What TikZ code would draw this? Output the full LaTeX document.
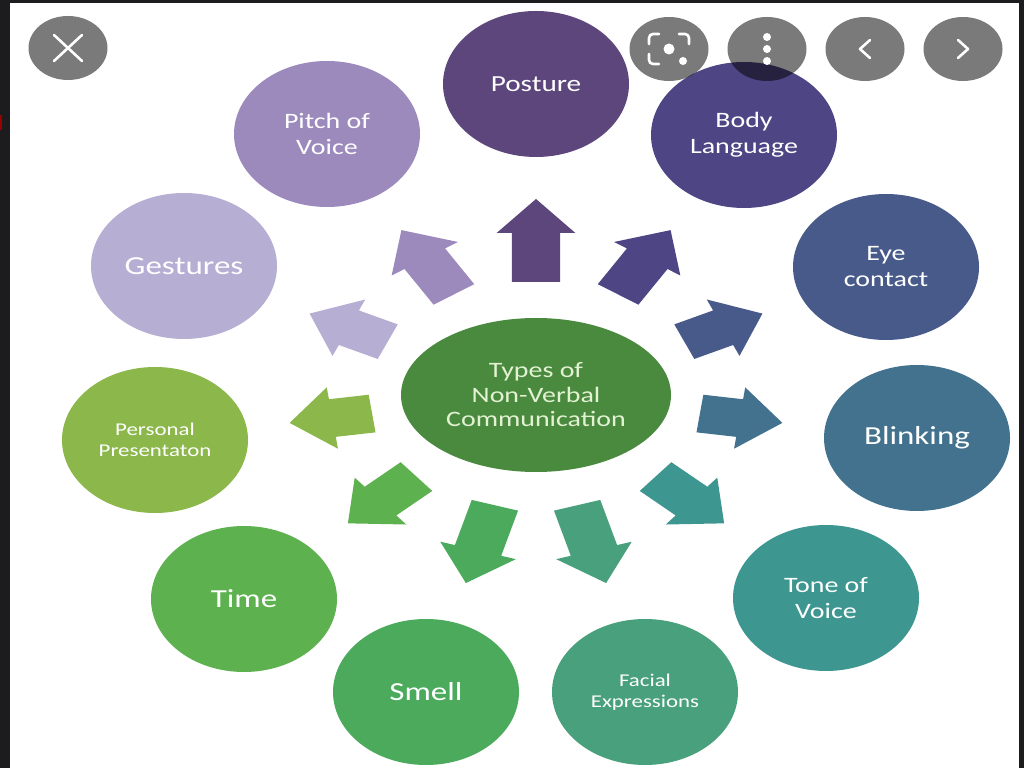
\documentclass[tikz,border=0pt]{standalone}
\usepackage{fontspec}
\usepackage{xcolor}
\usetikzlibrary{shapes.geometric}

\newfontfamily\bodyfont[FakeStretch=1.27]{Carlito}

\definecolor{framedark}{HTML}{1C1C1E}
\definecolor{cposture}{HTML}{5C467C}
\definecolor{cbody}{HTML}{4E4585}
\definecolor{ceye}{HTML}{485A8A}
\definecolor{cblink}{HTML}{43728F}
\definecolor{ctone}{HTML}{3E9690}
\definecolor{cfacial}{HTML}{48A07C}
\definecolor{csmell}{HTML}{4BAA5C}
\definecolor{ctime}{HTML}{5DB14E}
\definecolor{cpersonal}{HTML}{8BB74B}
\definecolor{cgestures}{HTML}{B6AED3}
\definecolor{cpitch}{HTML}{9C8ABD}
\definecolor{ccenter}{HTML}{4A8A3F}
\definecolor{centertxt}{HTML}{E2F2D2}

\begin{document}
\begin{tikzpicture}[x=1pt, y=1pt,
  bubble/.style={ellipse, minimum width=186pt, minimum height=146pt, inner sep=0pt,
    text=white, align=center, font=\bodyfont\fontsize{22}{26}\selectfont},
  bigtxt/.style={font=\bodyfont\fontsize{26}{30}\selectfont},
  smalltxt/.style={font=\bodyfont\fontsize{18}{20.5}\selectfont},
  btn/.style={ellipse, minimum width=79pt, minimum height=64pt, inner sep=0pt,
    fill=black, fill opacity=0.52},
  icon/.style={white, line width=2.6pt, line cap=round, line join=round}]
  \useasboundingbox (0,0) rectangle (1024,768);
  \fill[framedark] (0,0) rectangle (1024,768);
  \fill[white] (10,0) rectangle (1019,765);
  \fill[red!60!black] (0,638) rectangle (2,653);

  % arrows round the centre
  \foreach \k/\col in {0/cposture,1/cbody,2/ceye,3/cblink,4/ctone,5/cfacial,
                       6/csmell,7/ctime,8/cpersonal,9/cgestures,10/cpitch}{
    \pgfmathsetmacro\ang{90-\k*360/11}
    \pgfmathsetmacro\len{83/sqrt((1.27*cos(\ang))^2+(sin(\ang))^2)}
    \pgfmathsetmacro\rbase{196-\len}
    \fill[\col, shift={(536,373)}, xscale=1.27, rotate=\ang]
      (\rbase,-19) -- (162,-19) -- (162,-31) -- (196,0) -- (162,31)
      -- (162,19) -- (\rbase,19) -- cycle;
  }

  \node[ellipse, fill=ccenter, minimum width=270pt, minimum height=154pt, inner sep=0pt,
    text=centertxt, align=center, font=\bodyfont\fontsize{22}{24.5}\selectfont]
    (types) at (536,373) {Types of\\Non-Verbal\\Communication};

  \node[bubble, fill=cposture, font=\bodyfont\fontsize{23}{27}\selectfont] (posture) at (536,684) {Posture};
  \node[bubble, fill=cbody]     (body)     at (744,633) {Body\\Language};
  \node[bubble, fill=ceye]      (eye)      at (886,501) {Eye\\contact};
  \node[bubble, fill=cblink, bigtxt]    (blink)    at (917,330) {Blinking};
  \node[bubble, fill=ctone]     (tone)     at (826,170) {Tone of\\Voice};
  \node[bubble, fill=cfacial, smalltxt] (facial)   at (645,76)  {Facial\\Expressions};
  \node[bubble, fill=csmell, bigtxt]    (smell)    at (426,76)  {Smell};
  \node[bubble, fill=ctime, bigtxt]     (time)     at (244,169) {Time};
  \node[bubble, fill=cpersonal, smalltxt] (personal) at (155,328) {Personal\\Presentaton};
  \node[bubble, fill=cgestures, bigtxt] (gestures) at (184,502) {Gestures};
  \node[bubble, fill=cpitch]    (pitch)    at (327,634) {Pitch of\\Voice};

  % viewer buttons
  \node[btn] (close) at (68,720) {};
  \node[btn] (lens)  at (669,719) {};
  \node[btn] (more)  at (767,719) {};
  \node[btn] (prev)  at (865,719) {};
  \node[btn] (next)  at (963,719) {};

  \draw[icon] ([shift={(-14,-13)}]close.center) -- ([shift={(14,13)}]close.center);
  \draw[icon] ([shift={(-14,13)}]close.center) -- ([shift={(14,-13)}]close.center);

  \draw[icon, rounded corners=4pt] ([shift={(-20,5)}]lens.center) |- ([shift={(-10,15)}]lens.center);
  \draw[icon, rounded corners=4pt] ([shift={(10,15)}]lens.center) -| ([shift={(20,5)}]lens.center);
  \draw[icon, rounded corners=4pt] ([shift={(-20,-5)}]lens.center) |- ([shift={(-10,-15)}]lens.center);
  \fill[white] (lens.center) circle (5.5);
  \fill[white] ([shift={(14,-12)}]lens.center) circle (4);

  \foreach \dy in {-12,0,12}
    \fill[white] ([yshift=\dy]more.center) circle (4);

  \draw[icon] ([shift={(5,9)}]prev.center) -- ([shift={(-5,0)}]prev.center) -- ([shift={(5,-9)}]prev.center);
  \draw[icon] ([shift={(-5,9)}]next.center) -- ([shift={(5,0)}]next.center) -- ([shift={(-5,-9)}]next.center);
\end{tikzpicture}
\end{document}
